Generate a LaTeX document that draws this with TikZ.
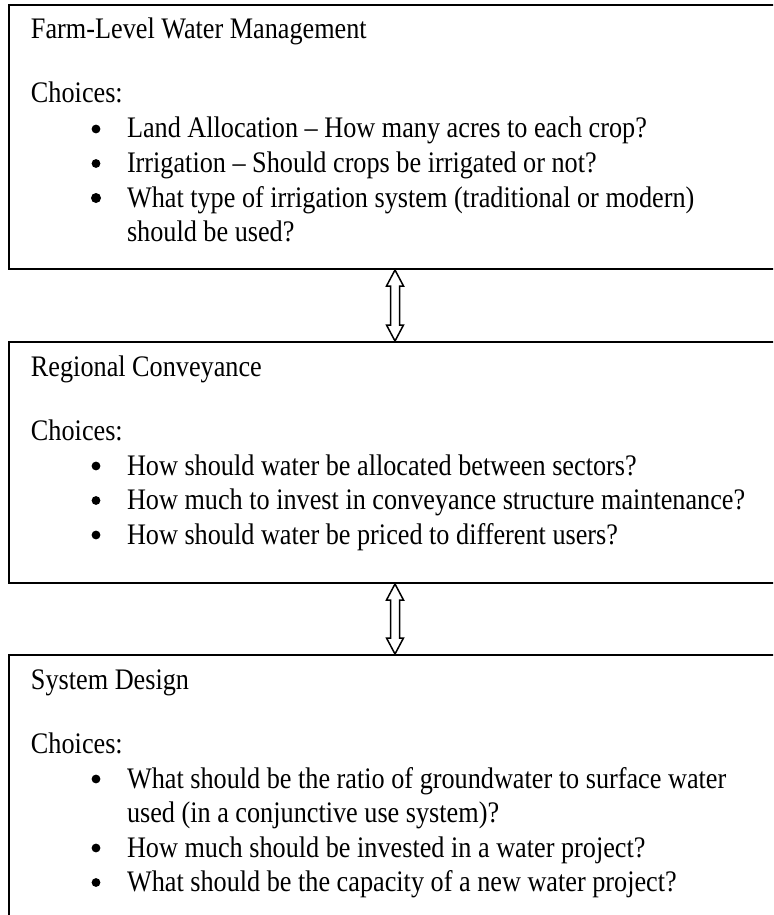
\documentclass[tikz,border=0pt]{standalone}
\usepackage{fontspec}
\setmainfont{Liberation Serif}[FakeStretch=0.88]
\usetikzlibrary{calc}
\tikzset{every picture/.style={line width=1pt}}

\begin{document}
\begin{tikzpicture}[x=.5pt,y=-.5pt,
 levelbox/.style={draw,rectangle,inner sep=0pt,minimum width=386pt,anchor=north west},
 every node/.style={font=\fontsize{14.9}{17.25}\selectfont},
 txt/.style={anchor=base west,inner sep=0pt},
 dot/.style={circle,fill,inner sep=0pt,minimum size=4.4pt}]
 \useasboundingbox (0,0) rectangle (773,915);
 \clip (0,0) rectangle (773,915);

 % The three decision levels; the right and lower edges run off the page.
 \node[levelbox,minimum height=132pt] (farm) at (8,4) {};
 \node[levelbox,minimum height=120.5pt] (region) at (8,341) {};
 \node[levelbox,minimum height=140pt] (design) at (8,654) {};

 \begin{scope}[shift={(0,4)}]
  \node[txt] (farmtitle) at (30,35) {Farm-Level Water Management};
  \node[txt] (farmch) at (30,99) {Choices:};
  \node[dot] (fb1) at (96,125) {};
  \node[txt] (fi1) at (126,134) {Land Allocation – How many acres to each crop?};
  \node[dot] (fb2) at (96,159.5) {};
  \node[txt] (fi2) at (126,168.5) {Irrigation – Should crops be irrigated or not?};
  \node[dot,minimum size=5pt] (fb3) at (96,194) {};
  \node[txt] (fi3) at (126,203) {What type of irrigation system (traditional or modern)};
  \node[txt] (fi3b) at (126,237.5) {should be used?};
 \end{scope}

 \begin{scope}[shift={(0,341)}]
  \node[txt] (regtitle) at (30,35) {Regional Conveyance};
  \node[txt] (regch) at (30,99) {Choices:};
  \node[dot] (rb1) at (96,125) {};
  \node[txt] (ri1) at (126,134) {How should water be allocated between sectors?};
  \node[dot] (rb2) at (96,159.5) {};
  \node[txt] (ri2) at (126,168.5) {How much to invest in conveyance structure maintenance?};
  \node[dot] (rb3) at (96,194) {};
  \node[txt] (ri3) at (126,203) {How should water be priced to different users?};
 \end{scope}

 \begin{scope}[shift={(0,654)}]
  \node[txt] (destitle) at (30,35) {System Design};
  \node[txt] (desch) at (30,99) {Choices:};
  \node[dot] (db1) at (96,125) {};
  \node[txt] (di1) at (126,134) {What should be the ratio of groundwater to surface water};
  \node[txt] (di1b) at (126,168.5) {used (in a conjunctive use system)?};
  \node[dot] (db2) at (96,194) {};
  \node[txt] (di2) at (126,203) {How much should be invested in a water project?};
  \node[dot] (db3) at (96,228.5) {};
  \node[txt] (di3) at (126,237.5) {What should be the capacity of a new water project?};
 \end{scope}

 % Hollow two-way arrows between neighbouring levels.
 \foreach \a/\b in {farm/region,region/design}
  \draw[fill=white,line width=.75pt,line join=miter]
   (\a.south) -- ++(8.5,16) -- ++(-4,0)
   -- ($(\b.north)+(4.5,-16)$) -- ++(4,0) -- (\b.north)
   -- ++(-8.5,-16) -- ++(4,0)
   -- ($(\a.south)+(-4.5,16)$) -- ++(-4,0) -- cycle;
\end{tikzpicture}
\end{document}
